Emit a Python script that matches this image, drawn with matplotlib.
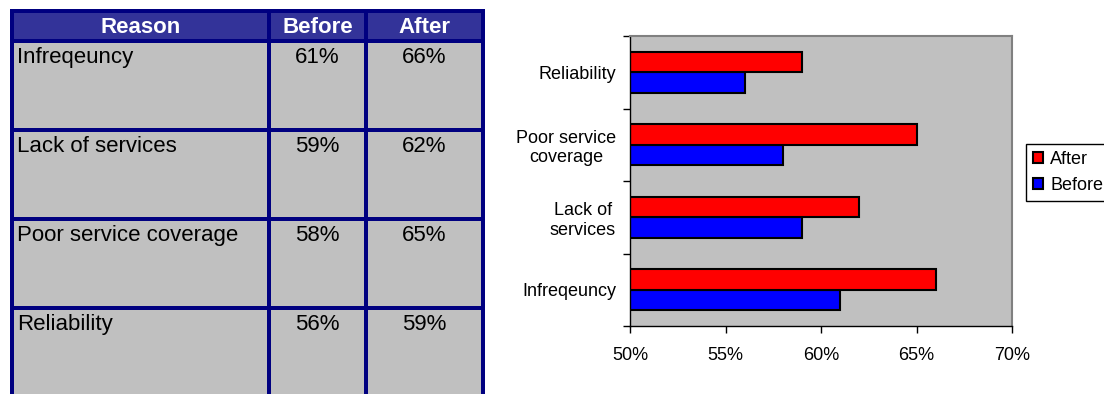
import matplotlib
matplotlib.use("Agg")
import matplotlib.pyplot as plt
from matplotlib.patches import Rectangle
from matplotlib.ticker import FuncFormatter, FixedLocator
import numpy as np

plt.rcParams['font.family'] = ['Liberation Sans', 'DejaVu Sans']

# survey results, per reason
reasons = ["Infreqeuncy", "Lack of services", "Poor service coverage", "Reliability"]
chart_labels = ["Infreqeuncy", "Lack of\nservices", "Poor service\ncoverage", "Reliability"]
before = [61, 59, 58, 56]
after = [66, 62, 65, 59]
headers = ["Reason", "Before", "After"]

NAVY = "#000080"
HEAD = "#333399"
CELL = "#C0C0C0"

fig = plt.figure(figsize=(11.04, 3.94), dpi=100)

# --- table on the left, drawn in pixel units ---
tab = fig.add_axes([0, 0, 1, 1])
tab.set_xlim(0, 1104)
tab.set_ylim(394, 0)
tab.axis("off")

col_x = [12, 269, 366, 483]
row_y = [10.5, 40.5, 129.5, 218.5, 307.5, 396.5]

tab.add_patch(Rectangle((col_x[0], row_y[0]), col_x[-1] - col_x[0], row_y[1] - row_y[0],
                        facecolor=HEAD, edgecolor="none"))
tab.add_patch(Rectangle((col_x[0], row_y[1]), col_x[-1] - col_x[0], row_y[-1] - row_y[1],
                        facecolor=CELL, edgecolor="none"))
lw = 4 * 72 / 100
for x in col_x:
    tab.plot([x, x], [row_y[0], row_y[-1]], color=NAVY, lw=lw, solid_capstyle="projecting")
for y in row_y:
    tab.plot([col_x[0], col_x[-1]], [y, y], color=NAVY, lw=lw, solid_capstyle="projecting")

for j, h in enumerate(headers):
    tab.text((col_x[j] + col_x[j + 1]) / 2, 33, h, color="white", fontsize=16,
             fontweight="bold", ha="center", va="baseline")

for i, r in enumerate(reasons):
    yb = row_y[i + 1] + 22.5
    tab.text(col_x[0] + 5, yb, r, fontsize=16, ha="left", va="baseline", color="black")
    tab.text((col_x[1] + col_x[2]) / 2, yb, f"{before[i]}%", fontsize=16,
             ha="center", va="baseline")
    tab.text((col_x[2] + col_x[3]) / 2, yb, f"{after[i]}%", fontsize=16,
             ha="center", va="baseline")

# --- bar chart on the right ---
ax = fig.add_axes([630 / 1104, 1 - 326 / 394, 382 / 1104, 290 / 394])
ax.set_facecolor(CELL)
idx = np.arange(len(reasons))
h = 0.28
ax.barh(idx - h / 2, before, height=h, color="#0000FF", edgecolor="black", lw=1.5,
        label="Before")
ax.barh(idx + h / 2, after, height=h, color="#FF0000", edgecolor="black", lw=1.5,
        label="After")

ax.set_xlim(50, 70)
ax.set_ylim(-0.5, len(reasons) - 0.5)
ax.set_xticks([50, 55, 60, 65, 70])
ax.xaxis.set_major_formatter(FuncFormatter(lambda v, p: f"{v:.0f}%"))
ax.tick_params(axis="x", direction="out", length=5, width=1, labelsize=13, pad=10)

ax.set_yticks(idx)
ax.set_yticklabels(chart_labels)
ax.yaxis.set_minor_locator(FixedLocator(np.arange(-0.5, len(reasons), 1)))
ax.tick_params(axis="y", which="major", length=0, labelsize=13, pad=10)
ax.tick_params(axis="y", which="minor", direction="out", length=5, width=1)
for lab in ax.get_yticklabels():
    lab.set_multialignment("center")

for s in ["left", "bottom"]:
    ax.spines[s].set_color("black")
    ax.spines[s].set_linewidth(1)
for s in ["top", "right"]:
    ax.spines[s].set_color("#808080")
    ax.spines[s].set_linewidth(1.5)

handles, labels = ax.get_legend_handles_labels()
leg = fig.legend(handles[::-1], labels[::-1], loc="upper left",
                 bbox_to_anchor=(1026 / 1104, 1 - 144 / 394), fontsize=13,
                 frameon=True, fancybox=False, edgecolor="black", framealpha=1,
                 handlelength=0.55, handleheight=0.55, handletextpad=0.4,
                 borderpad=0.4, labelspacing=0.5, borderaxespad=0)
leg.get_frame().set_linewidth(1)

fig.savefig("out.png", dpi=100)
